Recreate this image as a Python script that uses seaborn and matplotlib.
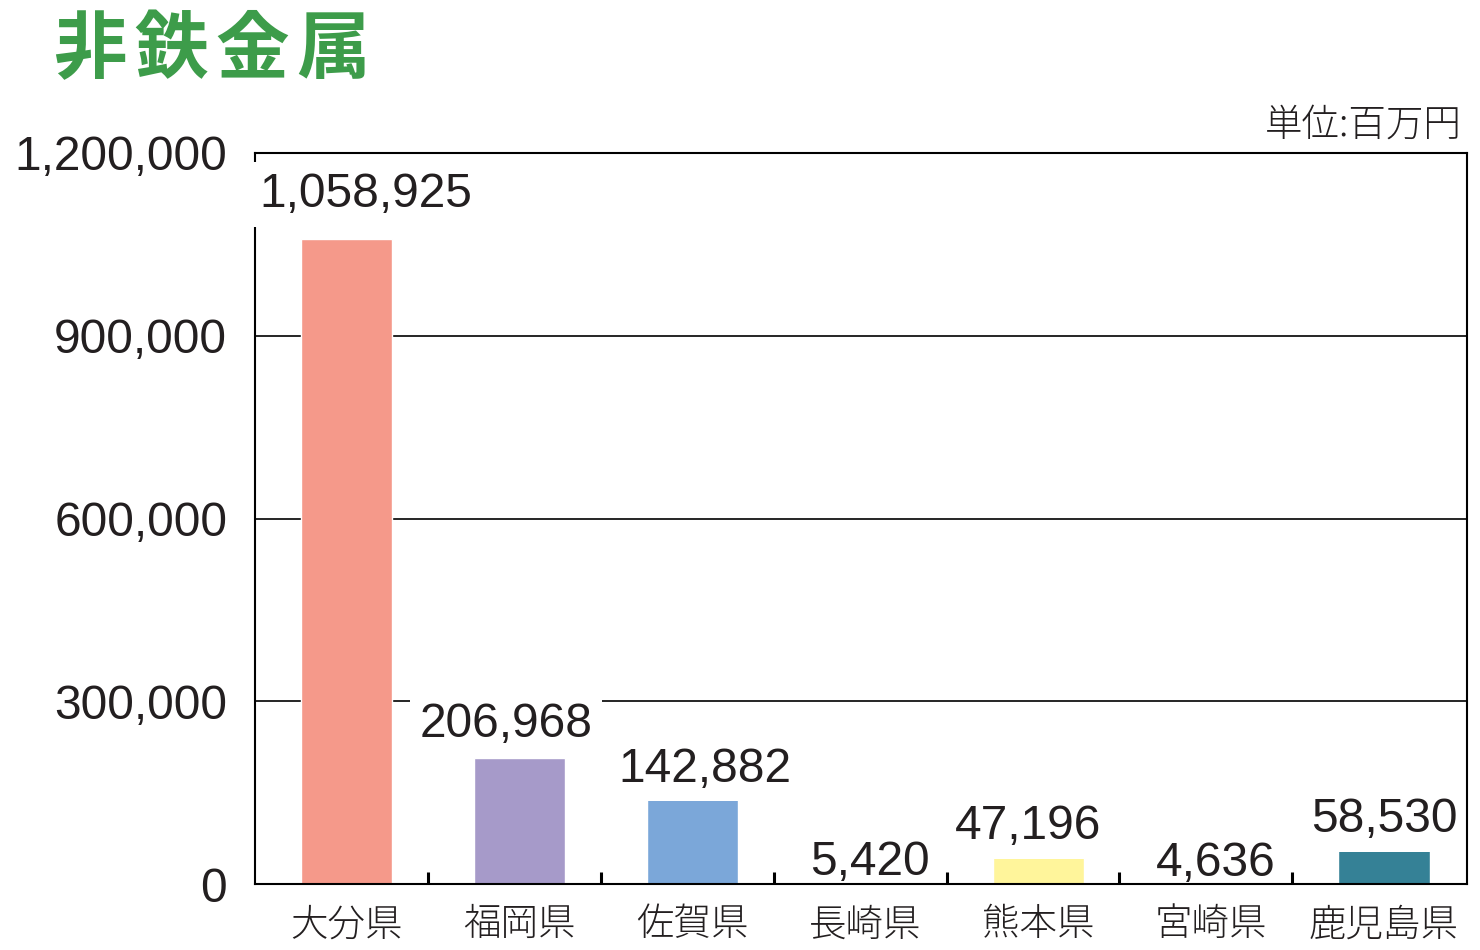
import numpy as np
import matplotlib
matplotlib.use("Agg")
import matplotlib.pyplot as plt
from matplotlib.ticker import FuncFormatter
import seaborn as sns

# データ（単位：百万円）
prefs = ["大分県", "福岡県", "佐賀県", "長崎県", "熊本県", "宮崎県", "鹿児島県"]
values = [1058925, 206968, 142882, 5420, 47196, 4636, 58530]
bar_colors = ["#f5998a", "#a69ac9", "#7ba7d9", "#9fd08a", "#fff59b", "#f6b26b", "#358196"]
y_ticks = [0, 300000, 600000, 900000, 1200000]
title = "非鉄金属"
unit_label = "単位:百万円"

sns.set_theme(style="white")
plt.rcParams["font.family"] = ["Noto Sans CJK JP", "DejaVu Sans"]
num_font = ["Liberation Sans", "DejaVu Sans"]

fig = plt.figure(figsize=(14.8, 9.5), dpi=100)
ax = fig.add_axes([255 / 1480, 1 - 884 / 950, (1467 - 255) / 1480, (884 - 153) / 950])

sns.barplot(x=prefs, y=values, hue=prefs, palette=bar_colors, legend=False,
            width=0.527, saturation=1, ax=ax, zorder=2)

ax.set_xlim(-0.53, 6.48)
ax.set_ylim(0, 1200000)
ax.set_yticks(y_ticks)
ax.yaxis.set_major_formatter(FuncFormatter(lambda v, p: f"{v:,.0f}"))
ax.set_xlabel("")
ax.set_ylabel("")

# グリッドと枠線
ax.set_axisbelow(True)
ax.grid(axis="y", color="black", linewidth=1.2)
ax.grid(axis="x", visible=False)
for sp in ax.spines.values():
    sp.set_visible(True)
    sp.set_color("black")
    sp.set_linewidth(1.5)
# 左の枠線だけラベルの白背景で隠れるようにする
ax.spines["bottom"].set_zorder(7)
ax.spines["right"].set_zorder(7)

ax.tick_params(axis="y", length=0, pad=20, labelsize=34.5, labelcolor="#231f20")
for t in ax.get_yticklabels():
    t.set_family(num_font)
ax.tick_params(axis="x", which="major", length=0, pad=15, labelsize=27, labelcolor="#231f20")
for t in ax.get_xticklabels():
    t.set_fontweight("light")
# 区切りの小さな目盛り
ax.set_xticks(np.arange(len(prefs) - 1) + 0.47, minor=True)
ax.tick_params(axis="x", which="minor", bottom=True, direction="in",
               length=8.5, width=2.2, color="black")
ax.xaxis.set_zorder(7)

# 値ラベル（白背景）
label_dx = [14, -10, 9, 3, -7, 3, 0]
label_dy = [23, 15, 11, 4, 11.5, 4, 11.5]
for i, v in enumerate(values):
    ax.annotate(f"{v:,}", xy=(i, v), xytext=(label_dx[i], label_dy[i]),
                textcoords="offset points", ha="center", va="baseline",
                fontsize=34.5, family=num_font, color="#231f20", zorder=6,
                annotation_clip=False,
                bbox=dict(boxstyle="square,pad=0.2", facecolor="white", edgecolor="none"))

# 単位
ax.text(0.996, 1.012, unit_label, transform=ax.transAxes, ha="right", va="bottom",
        fontsize=27, fontweight="light", color="#231f20")

# タイトル（文字間隔を広めに）
for k, ch in enumerate(title):
    fig.text((90 + 81 * k) / 1480, 1 - 51 / 950, ch, ha="center", va="center",
             fontsize=53, fontweight="bold", color="#3d9c4a")

plt.savefig("out.png", dpi=100)
